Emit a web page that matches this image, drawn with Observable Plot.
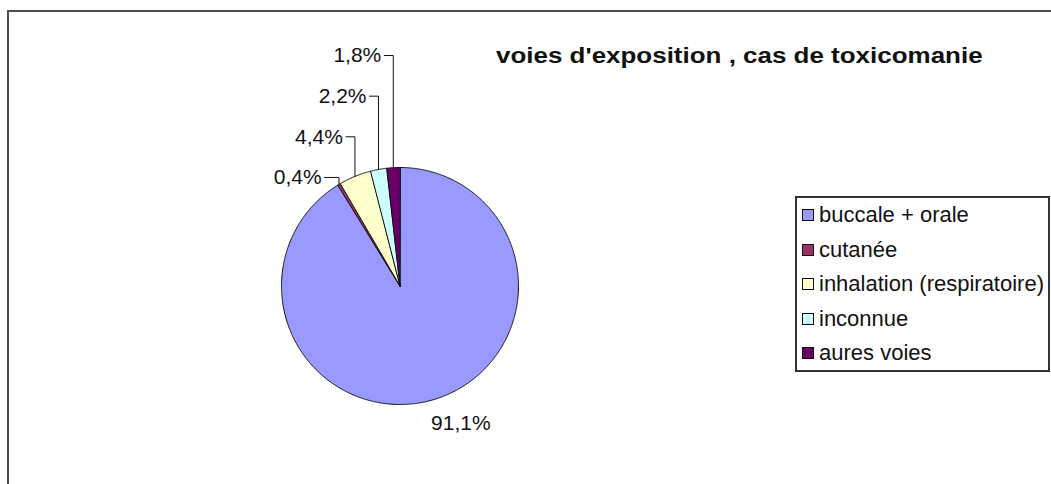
<!DOCTYPE html>
<html>
<head>
<meta charset="utf-8">
<script src="https://cdn.jsdelivr.net/npm/d3@7"></script>
<script src="https://cdn.jsdelivr.net/npm/@observablehq/plot@0.6"></script>
<style>
  html, body { margin: 0; padding: 0; background: #fff; }
  body { font-family: "Liberation Sans", Arial, sans-serif; }
  #chart { position: relative; width: 1051px; height: 484px; overflow: hidden; }
  #chart svg { position: absolute; left: 0; top: 0; }
  .frame { position: absolute; left: 7px; top: 10px; width: 1200px; height: 600px;
           border-top: 2px solid #4d4d4d; border-left: 2px solid #4d4d4d; }
  .title { position: absolute; left: 496px; top: 43px; font-size: 22px; font-weight: bold;
           color: #111; white-space: nowrap; transform-origin: 0 0; transform: scaleX(1.18); }
  .legend { position: absolute; left: 795px; top: 196px; width: 255px; height: 176px;
            border: 2px solid #333; box-sizing: border-box; background: #fff; }
  .legend .row { position: absolute; left: 5px; display: flex; align-items: center;
                 font-size: 22px; color: #111; white-space: nowrap; }
  .legend .sw { width: 10px; height: 10px; border: 1px solid #111; margin-right: 5px; }
</style>
</head>
<body>
<div id="chart"></div>
<script>
// Exposure routes among substance-abuse cases (percent of cases)
const routes = ["buccale + orale", "cutanée", "inhalation (respiratoire)", "inconnue", "aures voies"];
const shares = [91.1, 0.4, 4.4, 2.2, 1.8];
const labels = ["91,1%", "0,4%", "4,4%", "2,2%", "1,8%"];
const palette = ["#9999ff", "#993366", "#ffffcc", "#ccffff", "#660066"];
const title = "voies d'exposition , cas de toxicomanie";

// Pie geometry (pixels)
const W = 1051, H = 484;
const CX = 399.5, CY = 285.5, R = 118.5;
const LEAD = 9 / R;          // horizontal leader length, in radius units
const GAP = 3;               // gap between leader and its label, px
const LABEL_TOP = 1.945;     // level of the topmost small-slice label, radius units
const LABEL_STEP = 0.343;    // spacing between stacked labels, radius units

const total = d3.sum(shares);
let acc = 0;
const slices = routes.map((route, i) => {
  const a0 = acc / total * 2 * Math.PI;
  acc += shares[i];
  const a1 = acc / total * 2 * Math.PI;
  return {route, share: shares[i], label: labels[i], a0, a1, mid: (a0 + a1) / 2, i};
});

// Polygon outline of each slice, clockwise from 12 o'clock
const slicePts = slices.flatMap(s => {
  const n = Math.max(2, Math.ceil((s.a1 - s.a0) / (Math.PI / 360)));
  const pts = [{route: s.route, x: 0, y: 0}];
  for (let k = 0; k <= n; k++) {
    const a = s.a0 + (s.a1 - s.a0) * k / n;
    pts.push({route: s.route, x: Math.sin(a), y: Math.cos(a)});
  }
  return pts;
});

// Small slices get stacked labels above the pie with elbow leaders;
// the lowest one sits closest to the big slice, so its leader is longer
const small = slices.filter(s => s.i > 0);
const levelOf = s => LABEL_TOP - (slices.length - 1 - s.i) * LABEL_STEP;
const leadOf = s => (s.i === 1 ? 1.6 : 1) * LEAD;
const leaderPts = small.flatMap(s => {
  const level = levelOf(s);
  const rx = Math.sin(s.mid), ry = Math.cos(s.mid);
  return [
    {route: s.route, x: rx, y: ry},
    {route: s.route, x: rx, y: level},
    {route: s.route, x: rx - leadOf(s), y: level}
  ];
});
const smallLabels = small.map(s => ({
  text: s.label,
  x: Math.sin(s.mid) - leadOf(s),
  y: levelOf(s)
}));
const big = slices[0];
const bigLabel = [{text: big.label, x: 1.2 * Math.sin(big.mid), y: 1.2 * Math.cos(big.mid)}];

const plot = Plot.plot({
  width: W, height: H, margin: 0,
  style: {fontFamily: "'Liberation Sans', Arial, sans-serif", background: "transparent"},
  x: {domain: [-1, 1], range: [CX - R, CX + R], axis: null},
  y: {domain: [-1, 1], range: [CY + R, CY - R], axis: null},
  color: {domain: routes, range: palette},
  marks: [
    Plot.line(slicePts, {x: "x", y: "y", z: "route", fill: "route", stroke: "#111",
                         strokeWidth: 1, curve: "linear-closed"}),
    Plot.line(leaderPts, {x: "x", y: "y", z: "route", stroke: "#111", strokeWidth: 1}),
    Plot.text(smallLabels, {x: "x", y: "y", text: "text", textAnchor: "end", dx: -GAP,
                            fontSize: 21, fill: "#111"}),
    Plot.text(bigLabel, {x: "x", y: "y", text: "text", dx: 22, fontSize: 21, fill: "#111"})
  ]
});

const chart = document.getElementById("chart");
chart.append(plot);

const frame = document.createElement("div");
frame.className = "frame";
chart.append(frame);

const t = document.createElement("div");
t.className = "title";
t.textContent = title;
chart.append(t);

const legend = document.createElement("div");
legend.className = "legend";
routes.forEach((route, i) => {
  const row = document.createElement("div");
  row.className = "row";
  row.style.top = (4 + i * 34.6) + "px";
  const sw = document.createElement("span");
  sw.className = "sw";
  sw.style.background = palette[i];
  const lab = document.createElement("span");
  lab.textContent = route;
  row.append(sw, lab);
  legend.append(row);
});
chart.append(legend);
</script>
</body>
</html>
